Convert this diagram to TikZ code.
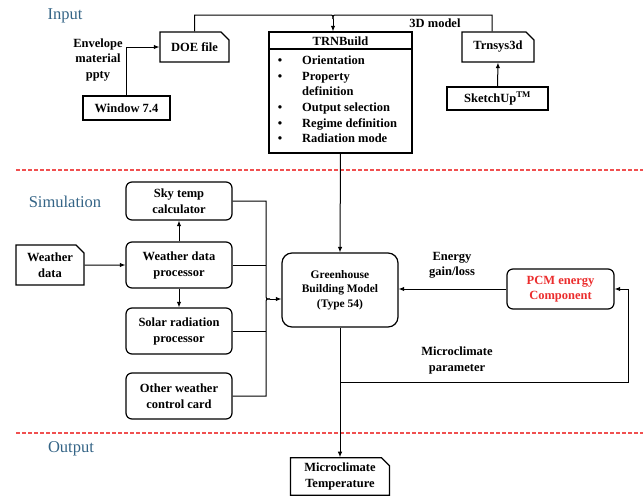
\documentclass[tikz,border=0pt]{standalone}
\usepackage{fontspec}
\setmainfont{Liberation Serif}
\usetikzlibrary{shapes.misc,arrows.meta}
\definecolor{headblue}{RGB}{52,100,134}
\definecolor{divred}{RGB}{240,80,80}
\definecolor{pcmred}{RGB}{235,45,45}
\tikzset{
  box/.style={draw, line width=1.2pt, font=\bfseries\fontsize{12.5}{16}\selectfont, align=center, inner sep=1pt},
  rbox/.style={box, rounded corners=6pt},
  docbox/.style={box, chamfered rectangle, chamfered rectangle corners=north east, chamfered rectangle xsep=4pt, chamfered rectangle ysep=4pt},
  lbl/.style={font=\bfseries\fontsize{12.5}{15.5}\selectfont, align=center, inner sep=0pt},
  sec/.style={font=\fontsize{16.5}{20}\selectfont, text=headblue, inner sep=0pt},
  divline/.style={draw=divred, dashed, dash pattern=on 4pt off 2pt, line width=1.2pt},
  link/.style={line width=1pt},
}
\begin{document}
\begin{tikzpicture}[x=1pt,y=-1pt,>={Latex[length=5.5pt,width=4.5pt]}]
\useasboundingbox (0,0) rectangle (643,496);
% section titles and dividers
\node[sec] (input) at (65,16) {Input};
\node[sec] (simulation) at (65,202) {Simulation};
\node[sec] (output) at (71,449) {Output};
\draw[divline] (16,170) -- (643,170);
\draw[divline] (16,433) -- (643,433);
% input stage
\node[docbox, minimum width=69pt, minimum height=30pt] (doe) at (194.5,47) {DOE file};
\node[box, minimum width=87pt, minimum height=24pt] (win) at (126.5,108) {Window 7.4};
\node[lbl] (ppty) at (98,60) {Envelope\\material\\ppty};
\node[box, minimum width=143pt, minimum height=121pt] (trn) at (340.5,92.5) {};
\node[lbl] (trntitle) at (340.5,41) {TRNBuild};
\coordinate (hl) at (0,49);
\draw[line width=1.2pt] (trn.west |- hl) -- (trn.east |- hl);
\foreach \i/\y/\t in {1/64.5/Orientation, 2/80/Property, 4/111.5/Output selection, 5/127/Regime definition, 6/142.5/Radiation mode}{
  \node[lbl, anchor=base] (bul\i) at (280,\y) {\textbullet};
  \node[lbl, anchor=base west] (itm\i) at (302,\y) {\t};
}
\node[lbl, anchor=base west] (itm3) at (302,95.5) {definition};
\node[docbox, minimum width=72pt, minimum height=30pt] (trns3d) at (498,47) {Trnsys3d};
\node[box, minimum width=101pt, minimum height=23pt] (sketch) at (497.5,98.5) {SketchUp\textsuperscript{TM}};
\node[lbl] (model) at (435,23) {3D model};
\coordinate (tj) at (333,19);
\draw[link] (doe.north) |- (329,15) .. controls (333,15) .. (tj);
\draw[link] ([xshift=-6pt]trns3d.north) |- (337,15) .. controls (333,15) .. (tj);
\draw[link,->] (tj) -- (tj |- trn.north);
\draw[link,->] (win.north) |- (doe.west);
\draw[link,->] (sketch.north) -- (trns3d.south);
% simulation stage
\node[docbox, minimum width=68pt, minimum height=40pt] (wdata) at (50,265) {Weather\\data};
\node[rbox, minimum width=106pt, minimum height=38pt] (sky) at (179,201) {Sky temp\\calculator};
\node[rbox, minimum width=106pt, minimum height=46pt] (wdp) at (179,265) {Weather data\\processor};
\node[rbox, minimum width=106pt, minimum height=46pt] (solar) at (179,331) {Solar radiation\\processor};
\node[rbox, minimum width=106pt, minimum height=46pt] (other) at (179,396) {Other weather\\control card};
\node[box, rounded corners=10pt, minimum width=116pt, minimum height=74pt, font=\bfseries\fontsize{11.5}{14.5}\selectfont] (ghm) at (340,290) {Greenhouse\\Building Model\\(Type 54)};
\node[rbox, minimum width=107pt, minimum height=40pt, text=pcmred, font=\bfseries\fontsize{12.5}{15}\selectfont] (pcm) at (560.5,289) {PCM energy\\Component};
\node[lbl] (gain) at (452,265.5) {Energy\\gain/loss};
\node[lbl] (param) at (457,360.5) {Microclimate\\parameter};
\draw[link,->] (wdata) -- (wdp);
\draw[link,->] (wdp.north) -- (sky.south);
\draw[link,->] (wdp.south) -- (solar.north);
\coordinate (bt) at (266,294);
\coordinate (bb) at (266,304);
\coordinate (bj) at (270,299);
\draw[link] (sky.east) -| (bt) .. controls (266,299) .. (bj);
\draw[link] (other.east) -| (bb) .. controls (266,299) .. (bj);
\draw[link] (wdp.east) -- (wdp.east -| bt);
\draw[link] (solar.east) -- (solar.east -| bt);
\draw[link,->] (bj) -- (bj -| ghm.west);
\draw[link,->] (trn.south) -- (ghm.north);
\draw[link,->] (pcm.west) -- (pcm.west -| ghm.east);
\coordinate (fb) at (340,382);
\coordinate (fr) at (628,382);
\draw[link,->] (fb) -- (fr) |- (pcm.east);
% output stage
\node[docbox, minimum width=99pt, minimum height=37pt] (mct) at (340,476.5) {Microclimate\\Temperature};
\draw[link,->] (ghm.south) -- (mct.north);
\end{tikzpicture}
\end{document}
